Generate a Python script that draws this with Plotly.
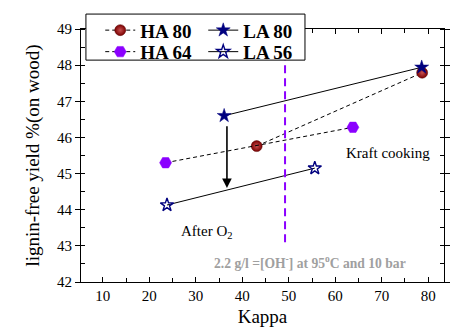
import plotly.graph_objects as go

# Data
ha80_x = [43.1, 78.7]
ha80_y = [45.76, 47.79]
la80_x = [36.1, 78.6]
la80_y = [46.6, 47.94]
ha64_x = [23.5, 63.8]
ha64_y = [45.3, 46.28]
la56_x = [23.8, 55.6]
la56_y = [44.13, 45.15]

x_ticks = [10, 20, 30, 40, 50, 60, 70, 80]
y_ticks = [42, 43, 44, 45, 46, 47, 48, 49]

SERIF = "Liberation Serif"

fig = go.Figure()

fig.add_trace(go.Scatter(
    x=ha80_x, y=ha80_y, name="HA 80", mode="lines+markers",
    line=dict(color="black", width=1, dash="4px,3px"),
    marker=dict(symbol="circle", size=11, color="#7a0000",
                gradient=dict(type="radial", color="#c85050"),
                line=dict(color="#5a0000", width=0.5)),
    legend="legend"))
fig.add_trace(go.Scatter(
    x=la80_x, y=la80_y, name="LA 80", mode="lines+markers",
    line=dict(color="black", width=1),
    marker=dict(symbol="star", size=10.5, color="#00007f",
                line=dict(color="#00007f", width=0.5)),
    legend="legend"))
fig.add_trace(go.Scatter(
    x=ha64_x, y=ha64_y, name="HA 64", mode="lines+markers",
    line=dict(color="black", width=1, dash="4px,3px"),
    marker=dict(symbol="hexagon2", size=12, color="#8b00ff",
                line=dict(color="#8b00ff", width=0.5)),
    legend="legend2"))
fig.add_trace(go.Scatter(
    x=la56_x, y=la56_y, name="LA 56", mode="lines+markers",
    line=dict(color="black", width=1),
    marker=dict(symbol="star-open", size=10, color="#00007f",
                line=dict(color="#00007f", width=1.4)),
    legend="legend2"))

# vertical dashed line
fig.add_shape(type="line", x0=49.2, x1=49.2, y0=43.1, y1=48.9,
              xref="x", yref="y",
              line=dict(color="#8b00ff", width=2, dash="8px,5px"))

# legend box
fig.add_shape(type="rect", xref="paper", yref="paper",
              x0=0.0136, x1=0.617, y0=0.877, y1=1.059,
              line=dict(color="black", width=1), fillcolor="white",
              layer="above")

# arrow
fig.add_annotation(x=36.7, y=44.6, ax=36.7, ay=46.35, xref="x", yref="y",
                   axref="x", ayref="y", text="", showarrow=True,
                   arrowhead=2, arrowsize=1.2, arrowwidth=1.6,
                   arrowcolor="black")

fig.add_annotation(x=71.3, y=45.58, text="Kraft cooking", showarrow=False,
                   font=dict(family=SERIF, size=15, color="black"))
fig.add_annotation(x=32.3, y=43.38, text="After O<sub>2</sub>", showarrow=False,
                   font=dict(family=SERIF, size=15, color="black"))
fig.add_annotation(x=54.6, y=42.55,
                   text="2.2 g/l =[OH<sup>-</sup>] at 95<sup>o</sup>C and 10 bar",
                   showarrow=False,
                   font=dict(family=SERIF, size=13.6, color="#a0a0a0", weight="bold"))

legend_common = dict(orientation="h", xanchor="left", yanchor="top",
                     bgcolor="rgba(0,0,0,0)", borderwidth=0,
                     font=dict(family=SERIF, size=19, color="black", weight="bold"),
                     entrywidth=58, itemwidth=30, tracegroupgap=0)

fig.update_layout(
    width=451, height=329,
    margin=dict(l=81, r=1, t=29, b=47),
    paper_bgcolor="white", plot_bgcolor="white",
    showlegend=True,
    legend=dict(x=0.053, y=1.07, **legend_common),
    legend2=dict(x=0.053, y=0.985, **legend_common),
    xaxis=dict(
        range=[5.3, 83.4], tickvals=x_ticks, ticks="inside", ticklen=5,
        tickcolor="black", showline=True, linecolor="black", linewidth=1,
        mirror="ticks", showgrid=False, zeroline=False,
        minor=dict(dtick=5, tick0=0, ticks="inside", ticklen=4, tickcolor="black"),
        tickfont=dict(family=SERIF, size=15, color="black"),
        title=dict(text="Kappa", font=dict(family=SERIF, size=19, color="black"),
                   standoff=6),
    ),
    yaxis=dict(
        range=[42, 49], tickvals=y_ticks, ticks="outside", ticklen=5,
        tickcolor="black", showline=True, linecolor="black", linewidth=1,
        mirror="ticks", showgrid=False, zeroline=False,
        minor=dict(dtick=0.5, tick0=0, ticks="inside", ticklen=4, tickcolor="black"),
        tickfont=dict(family=SERIF, size=15, color="black"),
        title=dict(text="lignin-free yield %(on wood)",
                   font=dict(family=SERIF, size=19, color="black"), standoff=12),
    ),
)

fig.write_html("out.html")
